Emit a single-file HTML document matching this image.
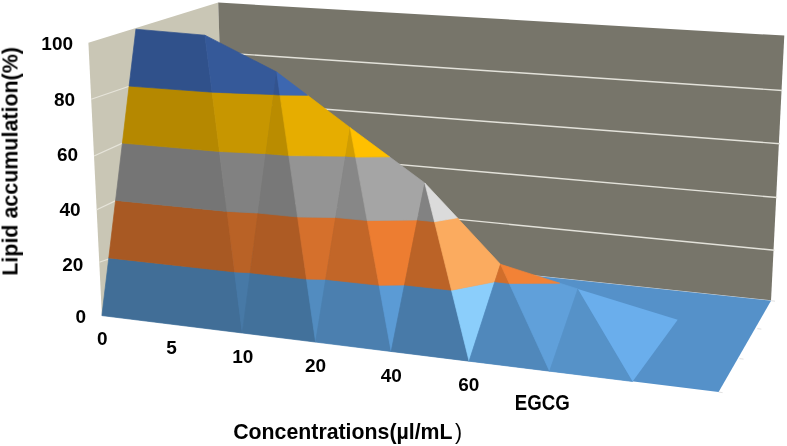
<!DOCTYPE html>
<html><head><meta charset="utf-8"><style>
html,body{margin:0;padding:0;background:#fff;}
body{width:787px;height:446px;overflow:hidden;}
svg{display:block;}
text{font-family:"Liberation Sans",sans-serif;fill:#000;}
</style></head><body>
<svg width="787" height="446" viewBox="0 0 787 446">
<rect width="787" height="446" fill="#fff"/>
<polygon points="88.4,42.8 218.2,2.6 225.8,243.2 101.9,315.4" fill="#c9c6b5" />
<line x1="91.2" y1="99.2" x2="141.6" y2="82.0" stroke="#e6e4da" stroke-width="1.20"/>
<line x1="94.0" y1="156.0" x2="130.8" y2="139.4" stroke="#e6e4da" stroke-width="1.20"/>
<line x1="96.7" y1="209.8" x2="121.0" y2="198.1" stroke="#e6e4da" stroke-width="1.20"/>
<line x1="99.3" y1="262.3" x2="111.6" y2="258.0" stroke="#e6e4da" stroke-width="1.20"/>
<polygon points="218.2,2.6 784.3,35.6 771.0,300.7 225.8,243.2" fill="#77756a" />
<line x1="219.9" y1="52.7" x2="782.3" y2="90.5" stroke="#e3e2da" stroke-width="1.40"/>
<line x1="221.4" y1="101.3" x2="780.0" y2="143.7" stroke="#e3e2da" stroke-width="1.40"/>
<line x1="222.9" y1="149.2" x2="777.2" y2="197.5" stroke="#e3e2da" stroke-width="1.40"/>
<line x1="224.4" y1="196.5" x2="774.5" y2="250.2" stroke="#e3e2da" stroke-width="1.40"/>
<line x1="225.8" y1="243.2" x2="771.0" y2="300.7" stroke="#cfd6dc" stroke-width="1.10"/>
<polygon points="101.9,315.4 718.6,392.1 771.0,300.7 225.8,243.2" fill="#5591c9" />
<line x1="771.0" y1="300.7" x2="775.0" y2="301.2" stroke="#d9d9d9" stroke-width="0.80"/>
<line x1="757.3" y1="328.6" x2="761.3" y2="329.1" stroke="#d9d9d9" stroke-width="0.80"/>
<line x1="739.5" y1="358.6" x2="743.5" y2="359.1" stroke="#d9d9d9" stroke-width="0.80"/>
<line x1="718.6" y1="392.1" x2="722.6" y2="392.6" stroke="#d9d9d9" stroke-width="0.80"/>
<polygon points="234.6,271.9 242.3,333.0 101.9,315.6 108.8,257.9" fill="#416e97" stroke="#416e97" stroke-width="0.7" stroke-linejoin="round"/>
<polygon points="227.0,211.4 234.6,271.9 108.8,257.9 115.6,200.4" fill="#a85923" stroke="#a85923" stroke-width="0.7" stroke-linejoin="round"/>
<polygon points="219.5,151.5 227.0,211.4 115.6,200.4 122.4,143.1" fill="#757575" stroke="#757575" stroke-width="0.7" stroke-linejoin="round"/>
<polygon points="212.1,92.2 219.5,151.5 122.4,143.1 129.1,86.1" fill="#b58800" stroke="#b58800" stroke-width="0.7" stroke-linejoin="round"/>
<polygon points="135.9,29.2 204.9,35.2 212.1,92.2 129.1,86.1" fill="#30518b" stroke="#30518b" stroke-width="0.7" stroke-linejoin="round"/>
<polygon points="250.2,272.8 242.3,333.0 234.6,271.9" fill="#4779a6" stroke="#4779a6" stroke-width="0.7" stroke-linejoin="round"/>
<polygon points="258.1,213.1 250.2,272.8 234.6,271.9 227.0,211.4" fill="#b96226" stroke="#b96226" stroke-width="0.7" stroke-linejoin="round"/>
<polygon points="265.9,153.7 258.1,213.1 227.0,211.4 219.5,151.5" fill="#818181" stroke="#818181" stroke-width="0.7" stroke-linejoin="round"/>
<polygon points="273.7,94.6 265.9,153.7 219.5,151.5 212.1,92.2" fill="#c79600" stroke="#c79600" stroke-width="0.7" stroke-linejoin="round"/>
<polygon points="204.9,35.2 276.7,72.0 273.7,94.6 212.1,92.2" fill="#355999" stroke="#355999" stroke-width="0.7" stroke-linejoin="round"/>
<polygon points="250.2,272.8 242.3,333.0 315.6,342.1 306.5,279.1" fill="#42719b" stroke="#42719b" stroke-width="0.7" stroke-linejoin="round"/>
<polygon points="258.1,213.1 250.2,272.8 306.5,279.1 297.6,217.0" fill="#ad5b24" stroke="#ad5b24" stroke-width="0.7" stroke-linejoin="round"/>
<polygon points="265.9,153.7 258.1,213.1 297.6,217.0 288.8,155.6" fill="#787878" stroke="#787878" stroke-width="0.7" stroke-linejoin="round"/>
<polygon points="273.7,94.6 265.9,153.7 288.8,155.6 280.0,95.1" fill="#ba8c00" stroke="#ba8c00" stroke-width="0.7" stroke-linejoin="round"/>
<polygon points="276.7,72.0 273.7,94.6 280.0,95.1" fill="#32538f" stroke="#32538f" stroke-width="0.7" stroke-linejoin="round"/>
<polygon points="325.7,279.4 315.6,342.1 306.5,279.1" fill="#528cc0" stroke="#528cc0" stroke-width="0.7" stroke-linejoin="round"/>
<polygon points="335.7,217.5 325.7,279.4 306.5,279.1 297.6,217.0" fill="#d5702c" stroke="#d5702c" stroke-width="0.7" stroke-linejoin="round"/>
<polygon points="345.6,156.2 335.7,217.5 297.6,217.0 288.8,155.6" fill="#949494" stroke="#949494" stroke-width="0.7" stroke-linejoin="round"/>
<polygon points="307.5,95.3 350.2,127.7 345.6,156.2 288.8,155.6 280.0,95.1" fill="#e6ad00" stroke="#e6ad00" stroke-width="0.7" stroke-linejoin="round"/>
<polygon points="276.7,72.0 307.5,95.3 280.0,95.1" fill="#3d67b0" stroke="#3d67b0" stroke-width="0.7" stroke-linejoin="round"/>
<polygon points="325.7,279.4 315.6,342.1 391.2,351.5 379.1,285.3" fill="#4b7faf" stroke="#4b7faf" stroke-width="0.7" stroke-linejoin="round"/>
<polygon points="335.7,217.5 325.7,279.4 379.1,285.3 367.2,220.6" fill="#c26628" stroke="#c26628" stroke-width="0.7" stroke-linejoin="round"/>
<polygon points="345.6,156.2 335.7,217.5 367.2,220.6 355.6,157.1" fill="#878787" stroke="#878787" stroke-width="0.7" stroke-linejoin="round"/>
<polygon points="350.2,127.7 345.6,156.2 355.6,157.1" fill="#d19d00" stroke="#d19d00" stroke-width="0.7" stroke-linejoin="round"/>
<polygon points="404.5,285.0 391.2,351.5 379.1,285.3" fill="#5b9bd5" stroke="#5b9bd5" stroke-width="0.7" stroke-linejoin="round"/>
<polygon points="417.4,220.0 404.5,285.0 379.1,285.3 367.2,220.6" fill="#ed7d31" stroke="#ed7d31" stroke-width="0.7" stroke-linejoin="round"/>
<polygon points="389.5,156.8 424.8,183.0 417.4,220.0 367.2,220.6 355.6,157.1" fill="#a5a5a5" stroke="#a5a5a5" stroke-width="0.7" stroke-linejoin="round"/>
<polygon points="350.2,127.7 389.5,156.8 355.6,157.1" fill="#ffc000" stroke="#ffc000" stroke-width="0.7" stroke-linejoin="round"/>
<polygon points="404.5,285.0 391.2,351.5 469.1,361.2 451.5,290.2" fill="#487aa8" stroke="#487aa8" stroke-width="0.7" stroke-linejoin="round"/>
<polygon points="417.4,220.0 404.5,285.0 451.5,290.2 434.5,221.7" fill="#bb6327" stroke="#bb6327" stroke-width="0.7" stroke-linejoin="round"/>
<polygon points="424.8,183.0 417.4,220.0 434.5,221.7" fill="#828282" stroke="#828282" stroke-width="0.7" stroke-linejoin="round"/>
<polygon points="494.8,281.8 469.1,361.2 451.5,290.2" fill="#8bcefb" stroke="#8bcefb" stroke-width="0.7" stroke-linejoin="round"/>
<polygon points="457.3,217.8 500.5,264.3 494.8,281.8 451.5,290.2 434.5,221.7" fill="#fbab5f" stroke="#fbab5f" stroke-width="0.7" stroke-linejoin="round"/>
<polygon points="424.8,183.0 457.3,217.8 434.5,221.7" fill="#dbdbdb" stroke="#dbdbdb" stroke-width="0.7" stroke-linejoin="round"/>
<polygon points="494.8,281.8 469.1,361.2 549.6,371.2 509.3,283.4" fill="#5088bb" stroke="#5088bb" stroke-width="0.7" stroke-linejoin="round"/>
<polygon points="500.5,264.3 494.8,281.8 509.3,283.4" fill="#d16e2b" stroke="#d16e2b" stroke-width="0.7" stroke-linejoin="round"/>
<polygon points="559.7,283.2 577.9,289.0 549.6,371.2 509.3,283.4" fill="#60a0da" stroke="#60a0da" stroke-width="0.7" stroke-linejoin="round"/>
<polygon points="500.5,264.3 559.7,283.2 509.3,283.4" fill="#f28236" stroke="#f28236" stroke-width="0.7" stroke-linejoin="round"/>
<polygon points="577.9,289.0 549.6,371.2 632.6,381.5" fill="#5692c8" stroke="#5692c8" stroke-width="0.7" stroke-linejoin="round"/>
<polygon points="577.9,289.0 677.7,319.8 632.6,381.5" fill="#6aaeec" />
<g opacity="0.999">
<text x="57.2" y="50.0" font-size="19.0" font-weight="bold" text-anchor="middle" >100</text>
<text x="64.6" y="106.2" font-size="19.0" font-weight="bold" text-anchor="middle" >80</text>
<text x="67.6" y="161.4" font-size="19.0" font-weight="bold" text-anchor="middle" >60</text>
<text x="70.0" y="215.8" font-size="19.0" font-weight="bold" text-anchor="middle" >40</text>
<text x="72.8" y="270.7" font-size="19.0" font-weight="bold" text-anchor="middle" >20</text>
<text x="80.9" y="322.7" font-size="19.0" font-weight="bold" text-anchor="middle" >0</text>
<text x="102.3" y="345.1" font-size="19.0" font-weight="bold" text-anchor="middle" >0</text>
<text x="171.6" y="353.6" font-size="19.0" font-weight="bold" text-anchor="middle" >5</text>
<text x="242.8" y="362.7" font-size="19.0" font-weight="bold" text-anchor="middle" >10</text>
<text x="315.5" y="372.4" font-size="19.0" font-weight="bold" text-anchor="middle" >20</text>
<text x="391.3" y="381.5" font-size="19.0" font-weight="bold" text-anchor="middle" >40</text>
<text x="468.8" y="391.2" font-size="19.0" font-weight="bold" text-anchor="middle" >60</text>
<text x="514.8" y="409.7" font-size="21.3" font-weight="bold" text-anchor="start" textLength="55" lengthAdjust="spacingAndGlyphs">EGCG</text>
<text x="233.2" y="439.2" font-size="21.3" font-weight="bold" text-anchor="start" >Concentrations(µl/mL</text>
<text x="455.0" y="439.2" font-size="21.3" font-weight="normal" text-anchor="start" fill="#3a3a3a">)</text>
<text transform="translate(17.5,275.7) rotate(-90)" font-size="21.45" font-weight="bold">Lipid accumulation(%)</text>
</g>
</svg></body></html>
